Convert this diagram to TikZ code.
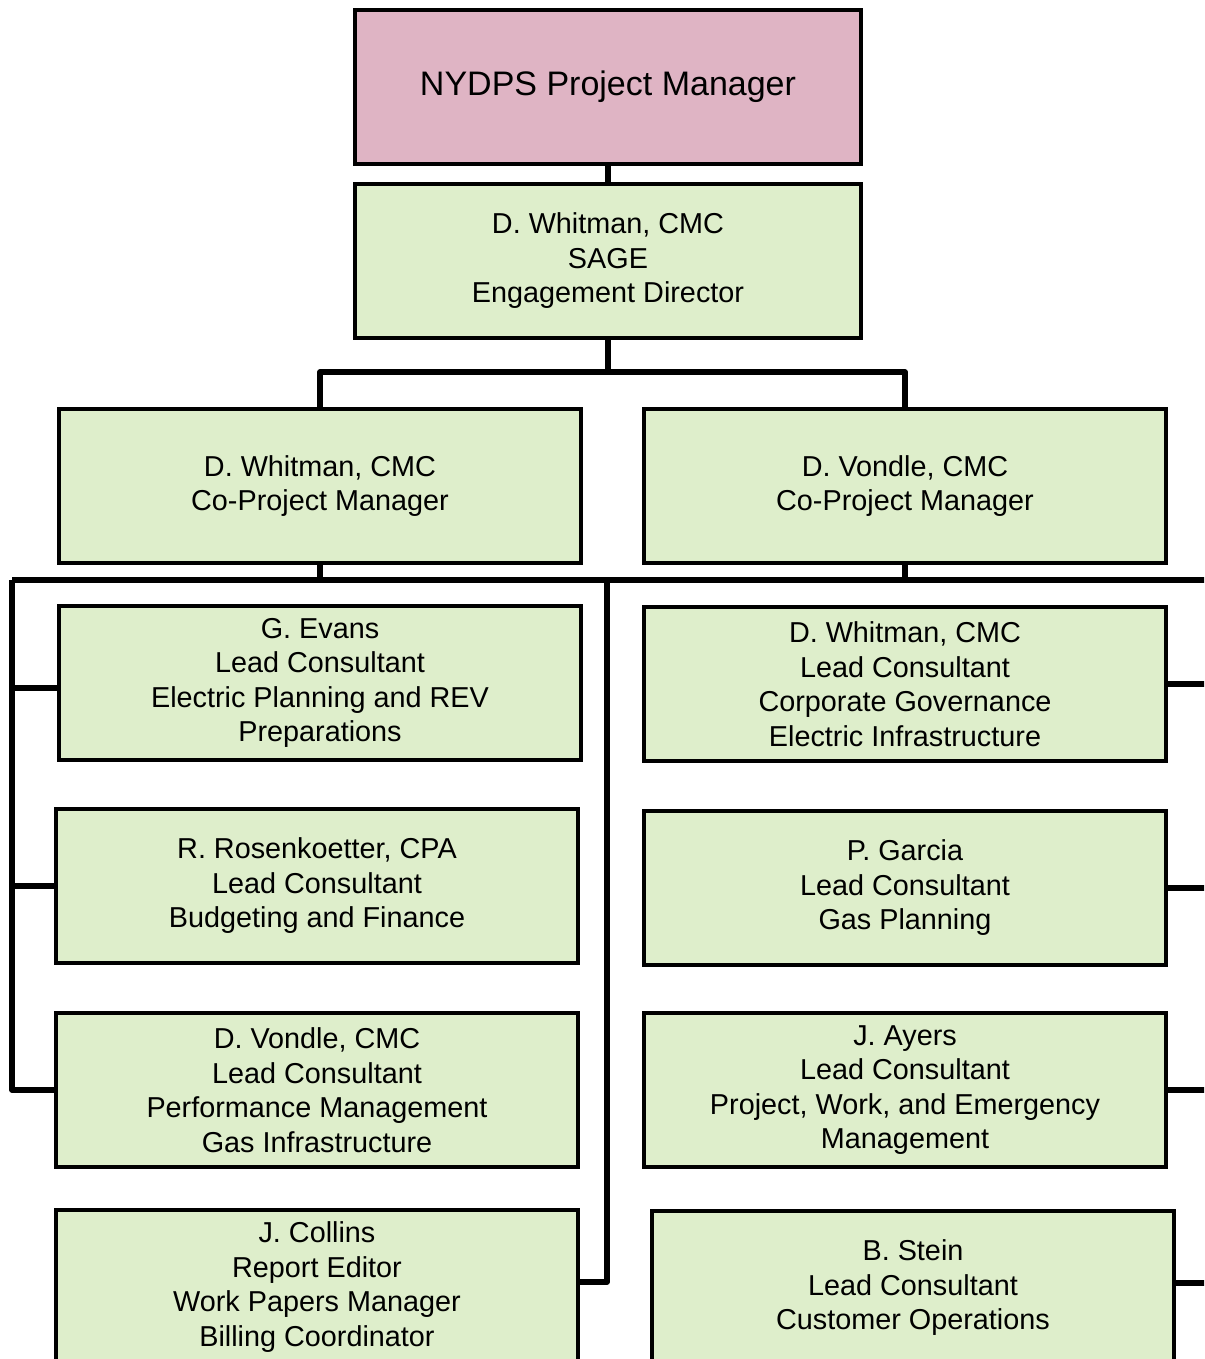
\documentclass[tikz,border=0pt]{standalone}
\usepackage{fontspec}
\setmainfont{Liberation Sans}
\usepackage{tikz}
\usetikzlibrary{positioning, calc}

\definecolor{pmpink}{RGB}{223,180,196}
\definecolor{staffgreen}{RGB}{222,238,203}

\begin{document}
\begin{tikzpicture}[x=0.5pt, y=-0.5pt,
  pmbox/.style={draw, line width=1.6pt, fill=pmpink, minimum width=253pt, minimum height=77pt,
    inner sep=2pt, align=center, font=\fontsize{17}{19}\selectfont},
  staffbox/.style={draw, line width=1.6pt, fill=staffgreen, minimum width=261pt, minimum height=77pt,
    inner sep=2pt, align=center, font=\fontsize{14.4}{17.25}\selectfont},
  link/.style={line width=2.6pt, line join=round}]
\useasboundingbox (0,0) rectangle (1204,1359);
\clip (0,0) rectangle (1204,1359);

% Top of the chart
\node[pmbox] (pm) at (608,87) {NYDPS Project Manager};
\node[staffbox, minimum width=253pt] (sage) at (608,261) {D. Whitman, CMC\\SAGE\\Engagement Director};

% Co-project managers
\node[staffbox] (coL) at (320,486) {D. Whitman, CMC\\Co-Project Manager};
\node[staffbox] (coR) at (905,486) {D. Vondle, CMC\\Co-Project Manager};

% Left column
\node[staffbox] (evans) at (320,683) {G. Evans\\Lead Consultant\\Electric Planning and REV\\Preparations};
\node[staffbox] (rosen) at (317,886) {R. Rosenkoetter, CPA\\Lead Consultant\\Budgeting and Finance};
\node[staffbox] (vondle) at (317,1090) {D. Vondle, CMC\\Lead Consultant\\Performance Management\\Gas Infrastructure};
\node[staffbox] (collins) at (317,1287) {J. Collins\\Report Editor\\Work Papers Manager\\Billing Coordinator};

% Right column
\node[staffbox] (whitman) at (905,684) {D. Whitman, CMC\\Lead Consultant\\Corporate Governance\\Electric Infrastructure};
\node[staffbox] (garcia) at (905,888) {P. Garcia\\Lead Consultant\\Gas Planning};
\node[staffbox] (ayers) at (905,1090) {J. Ayers\\Lead Consultant\\Project, Work, and Emergency\\Management};
\node[staffbox] (stein) at (913,1288) {B. Stein\\Lead Consultant\\Customer Operations};

% Connectors
\coordinate (split) at (608,372);
\coordinate (leftrail) at (12,580);
\coordinate (midrail) at (607,580);
\coordinate (rightrail) at (1218,580);

\draw[link] (pm.south) -- (sage.north);
\draw[link] (sage.south) -- (split) -| (coL.north);
\draw[link] (split) -| (coR.north);

\draw[link] (leftrail) -- (rightrail);
\draw[link] (coL.south) -- (coL.south |- leftrail);
\draw[link] (coR.south) -- (coR.south |- rightrail);

\draw[link] (leftrail) |- (vondle.west);
\draw[link] (leftrail |- evans.west) ++(0,5) -- ([yshift=-2.5pt]evans.west);
\draw[link] (leftrail |- rosen.west) -- (rosen.west);

\draw[link] (midrail) |- ([yshift=2.5pt]collins.east);

\draw[link] (rightrail) |- ([yshift=2.5pt]stein.east);
\draw[link] (rightrail |- whitman.east) -- (whitman.east);
\draw[link] (rightrail |- garcia.east) -- (garcia.east);
\draw[link] (rightrail |- ayers.east) -- (ayers.east);
\end{tikzpicture}
\end{document}
